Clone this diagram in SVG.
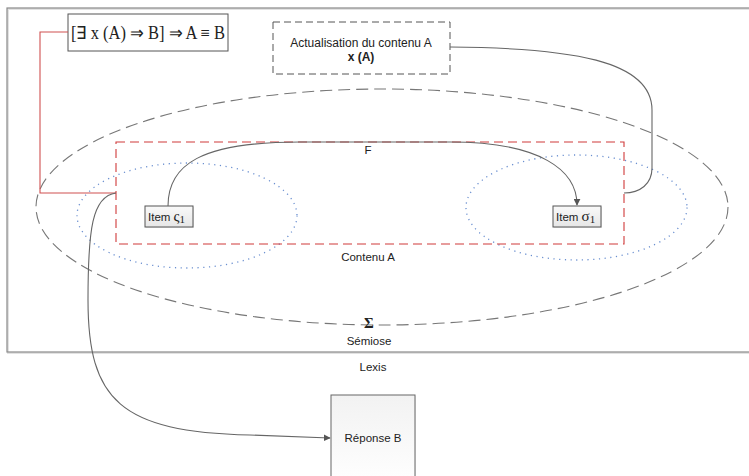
<svg xmlns="http://www.w3.org/2000/svg" width="749" height="476" viewBox="0 0 749 476">
<style>
.sans{font-family:"Liberation Sans",Arial,sans-serif;fill:#222}
.serif{font-family:"Liberation Serif","Times New Roman",serif;fill:#222}
.conn{fill:none;stroke:#666;stroke-width:1.1}
.node{fill:url(#ng);stroke:#555;stroke-width:1}
</style>
<defs>
<linearGradient id="ng" x1="0" y1="0" x2="0" y2="1">
<stop offset="0" stop-color="#f9f9f9"/>
<stop offset="1" stop-color="#e6e6e6"/>
</linearGradient>
<linearGradient id="rg" x1="0" y1="0" x2="0" y2="1">
<stop offset="0" stop-color="#f2f2f2"/>
<stop offset="1" stop-color="#ffffff"/>
</linearGradient>
<marker id="arr" viewBox="0 0 10 10" refX="9" refY="5" markerWidth="7" markerHeight="7" orient="auto" markerUnits="userSpaceOnUse">
<path d="M0,0 L10,5 L0,10 z" fill="#555"/>
</marker>
</defs>
<rect width="749" height="476" fill="#fff"/>

<g id="lexis">
<rect x="8" y="9" width="760" height="344" fill="none" stroke="#e2e2e2" stroke-width="2"/>
<rect x="7" y="8" width="760" height="344" fill="none" stroke="#8a8a8a" stroke-width="1.2"/>
<text class="sans" x="373" y="371" font-size="11.5" text-anchor="middle">Lexis</text>
</g>

<g id="semiose">
<ellipse cx="382" cy="207" rx="346" ry="118" fill="none" stroke="#777" stroke-width="1.1" stroke-dasharray="12,6"/>
<text class="serif" x="369" y="328" font-size="15" font-weight="bold" text-anchor="middle">Σ</text>
<text class="sans" x="369" y="345" font-size="11.5" text-anchor="middle">Sémiose</text>
</g>

<g id="ellipse-left">
<ellipse cx="187" cy="215.5" rx="110" ry="52.5" fill="none" stroke="#6a8fd0" stroke-width="1.3" stroke-dasharray="1.2,4.5"/>
</g>
<g id="ellipse-right">
<ellipse cx="576.5" cy="207.5" rx="110.5" ry="52.5" fill="none" stroke="#6a8fd0" stroke-width="1.3" stroke-dasharray="1.2,4.5"/>
</g>

<g id="contenu">
<rect x="116" y="142" width="508" height="102" fill="none" stroke="#d03a3a" stroke-width="1.1" stroke-dasharray="9,5"/>
<text class="sans" x="368" y="261" font-size="11.5" text-anchor="middle">Contenu A</text>
</g>

<g id="formule">
<rect x="68" y="14" width="160" height="37" fill="#fff" stroke="#555" stroke-width="1"/>
<text class="serif" x="148" y="39" font-size="18" text-anchor="middle" textLength="154" lengthAdjust="spacingAndGlyphs">[∃ x (A) ⇒ B] ⇒ A ≡ B</text>
</g>

<g id="actualisation">
<rect x="273" y="22" width="177" height="52" fill="#fff" stroke="#555" stroke-width="1" stroke-dasharray="7,4"/>
<text class="sans" x="361" y="47" font-size="12" text-anchor="middle">Actualisation du contenu A</text>
<text class="sans" x="361" y="61" font-size="12" font-weight="bold" text-anchor="middle">x (A)</text>
</g>

<g id="item-s">
<rect x="146" y="207" width="48" height="21" fill="#ddd" opacity="0.6"/>
<rect class="node" x="145" y="206" width="48" height="21"/>
<text class="sans" x="148" y="221" font-size="11.5">Item <tspan class="serif" font-size="15">ς</tspan><tspan class="serif" font-size="11" dy="2">1</tspan></text>
</g>

<g id="item-sigma">
<rect x="554" y="207" width="48" height="21" fill="#ddd" opacity="0.6"/>
<rect class="node" x="553" y="206" width="48" height="21"/>
<text class="sans" x="556" y="221" font-size="11.5">Item <tspan class="serif" font-size="15">σ</tspan><tspan class="serif" font-size="11" dy="2">1</tspan></text>
</g>

<g id="reponse">
<rect x="332" y="396" width="84" height="90" fill="#e8e8e8" opacity="0.6"/>
<rect x="331" y="395" width="84" height="90" fill="url(#rg)" stroke="#666" stroke-width="1"/>
<text class="sans" x="373" y="442" font-size="11.5" text-anchor="middle">Réponse B</text>
</g>

<text class="sans" x="368" y="154" font-size="11.5" text-anchor="middle">F</text>

<g id="connectors">
<path d="M68 32 L40 32 L40 193 L116 193" fill="none" stroke="#d05050" stroke-width="1.1"/>
<path class="conn" d="M168 206 C168 165 200 142 300 142 L450 142 C540 142 577 170 577 205" marker-end="url(#arr)"/>
<path class="conn" d="M450 47 C570 48 652 60 652 110 L652 168 C652 184 640 193 624 193"/>
<path class="conn" d="M116 193 C92 196 88 230 88 300 C88 400 120 432 250 435 Q300 437 330 438" marker-end="url(#arr)"/>
</g>
</svg>
